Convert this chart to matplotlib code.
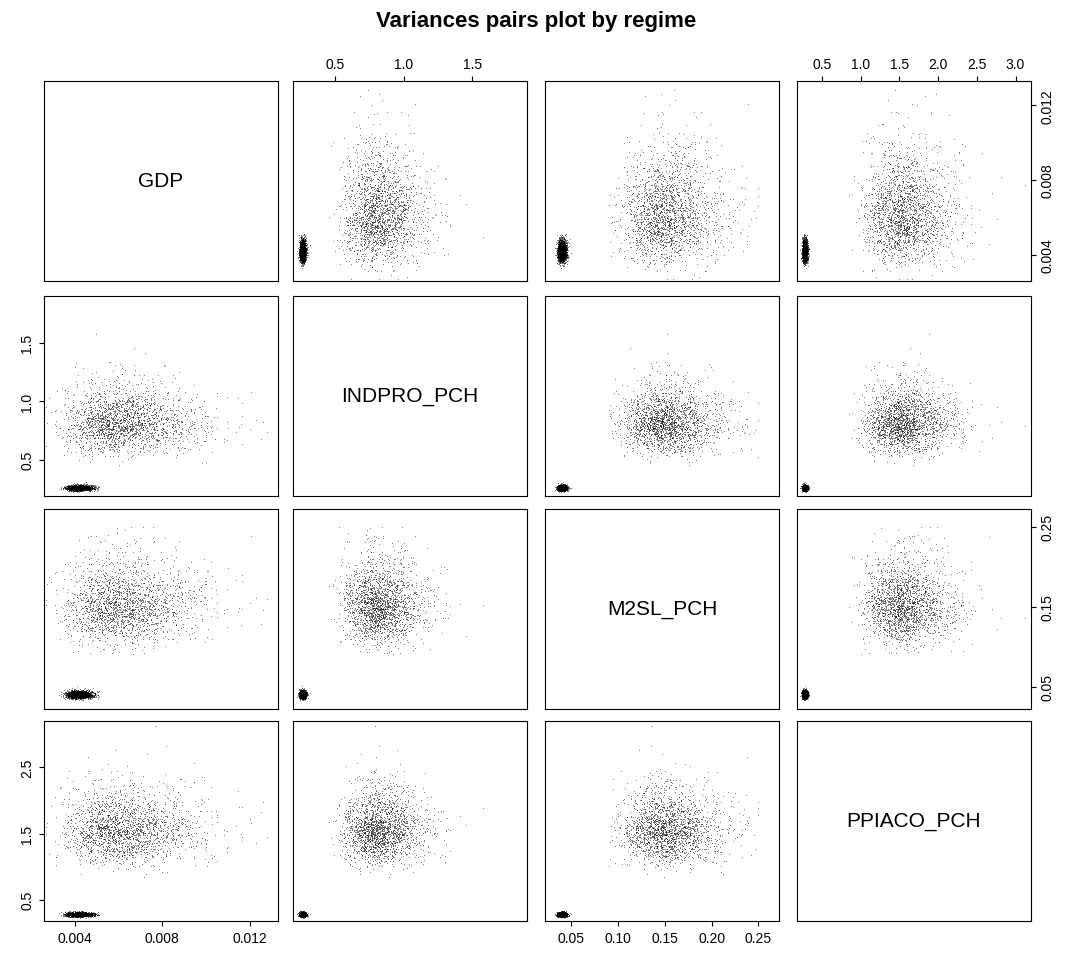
import numpy as np
import matplotlib.pyplot as plt

plt.rcParams['font.family'] = ['Liberation Sans', 'DejaVu Sans']

# Variable names and axis setup
names = ["GDP", "INDPRO_PCH", "M2SL_PCH", "PPIACO_PCH"]
limits = [(0.0026, 0.0133), (0.19, 1.9), (0.022, 0.272), (0.18, 3.2)]
ticks_a = [[0.004, 0.008, 0.012], [0.5, 1.0, 1.5], [0.05, 0.15, 0.25], [0.5, 1.5, 2.5]]
ticks_b = [[0.004, 0.008, 0.012], [0.5, 1.0, 1.5], [0.05, 0.10, 0.15, 0.20, 0.25],
           [0.5, 1.0, 1.5, 2.0, 2.5, 3.0]]
labels_a = [["0.004", "0.008", "0.012"], ["0.5", "1.0", "1.5"], ["0.05", "0.15", "0.25"],
            ["0.5", "1.5", "2.5"]]
labels_b = [["0.004", "0.008", "0.012"], ["0.5", "1.0", "1.5"],
            ["0.05", "0.10", "0.15", "0.20", "0.25"], ["0.5", "1.0", "1.5", "2.0", "2.5", "3.0"]]

# Cloud centres / spreads (regime 1 tight, regime 2 broad)
reg1_center = [0.0042, 0.26, 0.040, 0.28]
reg1_spread = [0.07, 0.045, 0.06, 0.06]       # log-scale spread
reg2_center = [0.0062, 0.82, 0.152, 1.55]
reg2_spread = [0.24, 0.18, 0.17, 0.18]
n_points = 2000

# the clouds are far too dense to read point by point, so they are drawn as
# samples around the centres read above
rng = np.random.default_rng(7)
reg1 = np.exp(np.log(reg1_center) + rng.standard_normal((n_points, 4)) * reg1_spread)
reg2 = np.exp(np.log(reg2_center) + rng.standard_normal((n_points, 4)) * reg2_spread)
data = np.vstack([reg1, reg2])

fig = plt.figure(figsize=(10.72, 9.62), dpi=100)
W, H = 1072, 962
lefts = [44, 293, 545, 797]
tops = [82, 297, 510, 722]
pw, ph = 234, 200

for i in range(4):
    for j in range(4):
        ax = fig.add_axes([lefts[j] / W, 1 - (tops[i] + ph) / H, pw / W, ph / H])
        ax.set_xlim(limits[j])
        ax.set_ylim(limits[i])
        ax.set_xticks([]); ax.set_yticks([])
        if i == j:
            ax.text(0.5, 0.5, names[i], ha="center", va="center", fontsize=15,
                    transform=ax.transAxes)
        else:
            ax.scatter(data[:, j], data[:, i], s=0.8, c="black", marker=".",
                       linewidths=0)
        if i == 0 and j % 2 == 1:
            ax.xaxis.tick_top()
            ax.set_xticks(ticks_b[j], labels_b[j], fontsize=10)
        if i == 3 and j % 2 == 0:
            ax.set_xticks(ticks_b[j], labels_b[j], fontsize=10)
        if j == 0 and i % 2 == 1:
            ax.set_yticks(ticks_a[i], labels_a[i], fontsize=10, rotation=90, va="center")
        if j == 3 and i % 2 == 0:
            ax.yaxis.tick_right()
            ax.set_yticks(ticks_a[i], labels_a[i], fontsize=10, rotation=90, va="center")

fig.text(0.5, 1 - 22 / H, "Variances pairs plot by regime", ha="center", va="center",
         fontsize=16, fontweight="bold")
fig.savefig("out.png", dpi=100)
